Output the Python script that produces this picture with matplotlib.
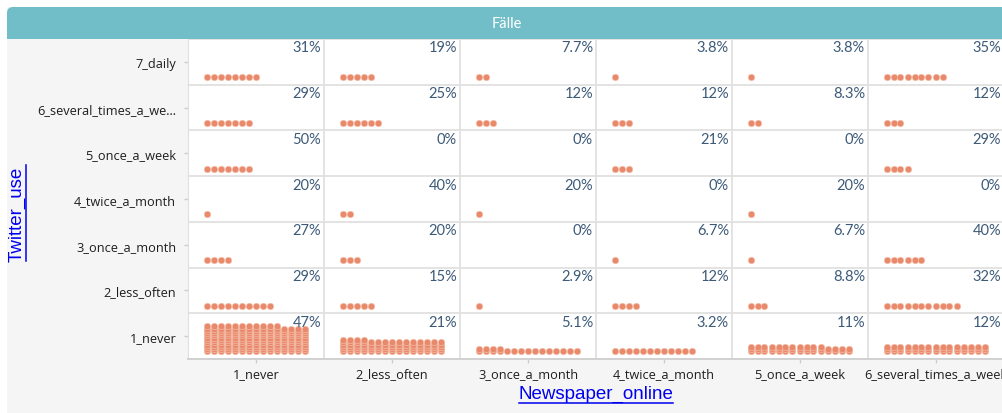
import matplotlib
matplotlib.use("Agg")
import matplotlib.pyplot as plt
from matplotlib.patches import Rectangle, FancyBboxPatch
from matplotlib.lines import Line2D
import numpy as np

# Twitter_use rows (top to bottom) x Newspaper_online columns, number of cases
twitter_levels = ["7_daily", "6_several_times_a_we...", "5_once_a_week",
                  "4_twice_a_month", "3_once_a_month", "2_less_often", "1_never"]
newspaper_levels = ["1_never", "2_less_often", "3_once_a_month",
                    "4_twice_a_month", "5_once_a_week", "6_several_times_a_week"]

counts_daily = [8, 5, 2, 1, 1, 9]
counts_several = [7, 6, 3, 3, 2, 3]
counts_week = [7, 0, 0, 3, 0, 4]
counts_twice = [1, 2, 1, 0, 1, 0]
counts_month = [4, 3, 0, 1, 1, 6]
counts_less = [10, 5, 1, 4, 3, 11]
counts_never = [176, 79, 19, 12, 41, 45]

rows = [counts_daily, counts_several, counts_week, counts_twice,
        counts_month, counts_less, counts_never]

W, H = 1002, 414
fig = plt.figure(figsize=(W / 100, H / 100), dpi=100, facecolor="white")

# background + header band
bg = fig.add_axes([0, 0, 1, 1])
bg.set_xlim(0, W)
bg.set_ylim(H, 0)
bg.axis("off")
bg.add_patch(Rectangle((7, 8), W, H, color="#f5f5f5", lw=0))
bg.add_patch(FancyBboxPatch((7, 8), 1100, 32, boxstyle="round,pad=0,rounding_size=6",
                            color="#72bec8", lw=0))
bg.add_patch(Rectangle((7, 24), 1100, 16, color="#72bec8", lw=0))
bg.text(507, 23.5, "F\u00e4lle", color="white", fontsize=10.5, family="Lato",
        ha="center", va="center")

# grid of cells
cell_w, cell_h = 136, 320 / 7
ax = fig.add_axes([188 / W, (H - 360) / H, 816 / W, 320 / H])
ax.set_xlim(0, 6)
ax.set_ylim(7, 0)
ax.set_facecolor("white")

ax.set_xticks(np.arange(6) + 0.5)
ax.set_xticklabels(newspaper_levels)
ax.set_yticks(np.arange(7) + 0.5)
ax.set_yticklabels(twitter_levels)
ax.set_xticks(np.arange(7), minor=True)
ax.set_yticks(np.arange(8), minor=True)
ax.grid(which="minor", color="#e0e0e0", lw=1.3)
ax.tick_params(which="minor", length=0)
ax.tick_params(axis="both", which="major", labelsize=9.2, colors="#cccccc",
               labelcolor="#1e1e1e", length=3, width=1)
ax.tick_params(axis="x", pad=3)
ax.tick_params(axis="y", pad=5.5)
for lbl in ax.get_xticklabels() + ax.get_yticklabels():
    lbl.set_family("Open Sans")
for s in ["top", "right"]:
    ax.spines[s].set_visible(False)
ax.spines["left"].set_color("#e0e0e0")
ax.spines["bottom"].set_color("#cfcfcf")
ax.spines["bottom"].set_linewidth(1.3)
ax.set_axisbelow(True)

per_line = 15
dx, dy = 7.0 / cell_w, 2.3 / cell_h
x0, y0 = 18.5 / cell_w, 7.5 / cell_h

for r, row in enumerate(rows):
    total = sum(row)
    for c, n in enumerate(row):
        i = np.arange(n)
        xs = c + x0 + (i % per_line) * dx
        ys = r + 1 - y0 - (i // per_line) * dy
        ax.scatter(xs, ys, s=22, color="#e9896b", edgecolor="#f6c2ae",
                   linewidths=0.4, zorder=3, clip_on=False)
        pct = 100 * n / total
        txt = "0%" if n == 0 else (f"{pct:.1f}%" if pct < 10 else f"{pct:.0f}%")
        ax.text(c + 1 - 3 / cell_w, r + 1.5 / cell_h, txt, ha="right", va="top",
                fontsize=10.5, color="#3c5a78", family="Lato", zorder=4)

# axis titles, blue and underlined
ytitle = fig.text(17 / W, 1 - 214 / H, "Twitter_use", rotation=90, color="#0000ee",
                  fontsize=13.5, family="Liberation Sans", ha="center", va="center")
xtitle = fig.text(596 / W, 1 - 399 / H, "Newspaper_online", color="#0000ee",
                  fontsize=13.5, family="Liberation Sans", ha="center", va="baseline")

fig.canvas.draw()
rend = fig.canvas.get_renderer()
bx = xtitle.get_window_extent(rend)
by = ytitle.get_window_extent(rend)
fig.add_artist(Line2D([bx.x0 / W, bx.x1 / W], [(bx.y0 - 0.5) / H] * 2,
                      transform=fig.transFigure, color="#0000ee", lw=1.1))
fig.add_artist(Line2D([(by.x1 + 0.5) / W] * 2, [by.y0 / H, by.y1 / H],
                      transform=fig.transFigure, color="#0000ee", lw=1.1))

fig.savefig("out.png", dpi=100, facecolor=fig.get_facecolor())
